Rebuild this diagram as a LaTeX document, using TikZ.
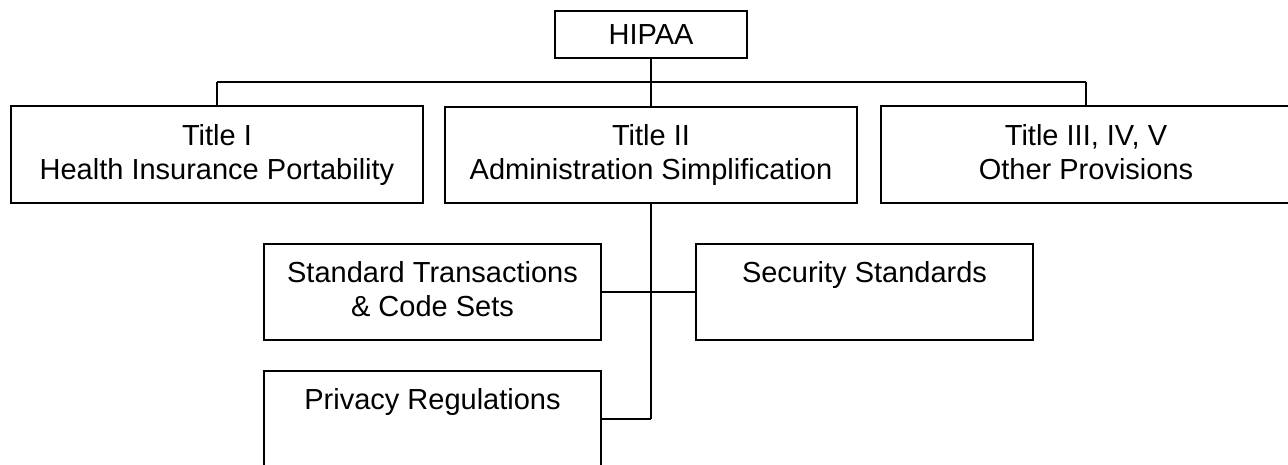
\documentclass[tikz,border=0pt]{standalone}
\usepackage{fontspec}
\setmainfont{Liberation Sans}
\newcommand{\dpfix}{\rule[-6pt]{0pt}{6pt}}
\begin{document}
\begin{tikzpicture}[x=1pt,y=-1pt,
  box/.style={draw=black,line width=1.6pt,rectangle,inner sep=0pt,align=center,
    font=\fontsize{29}{34}\selectfont},
  conn/.style={draw=black,line width=1.6pt}]
\useasboundingbox (0,0) rectangle (1288,464);
\node[box,minimum width=192pt,minimum height=47pt] (hipaa) at (651,34.5) {HIPAA};
\node[box,minimum width=412pt,minimum height=97pt] (t1) at (217,154.5) {Title I\\Health Insurance Portability\dpfix};
\node[box,minimum width=412pt,minimum height=96pt] (t2) at (651,155) {Title II\\Administration Simplification\dpfix};
\node[box,minimum width=410pt,minimum height=97pt] (t3) at (1086,154.5) {Title III, IV, V\\Other Provisions\dpfix};
\node[box,minimum width=337pt,minimum height=96pt] (std) at (432.5,292) {Standard Transactions\\\& Code Sets\dpfix};
\node[box,minimum width=337pt,minimum height=96pt] (sec) at (864.5,292) {Security Standards\\\dpfix};
\node[box,minimum width=337pt,minimum height=95pt] (priv) at (432.5,418.5) {Privacy Regulations\\\dpfix};
\coordinate (hj) at (651,82);
\coordinate (hl) at (217,82);
\coordinate (hr) at (1086,82);
\coordinate (vb) at (651,419);
\draw[conn] (hipaa.south) -- (hj);
\draw[conn] (hl) -- (hr);
\draw[conn] (hl) -- (t1.north);
\draw[conn] (hj) -- (t2.north);
\draw[conn] (hr) -- (t3.north);
\draw[conn] (t2.south) -- (vb);
\draw[conn] (std.east) -- (sec.west);
\draw[conn] (priv.east |- vb) -- (vb);
\end{tikzpicture}
\end{document}
